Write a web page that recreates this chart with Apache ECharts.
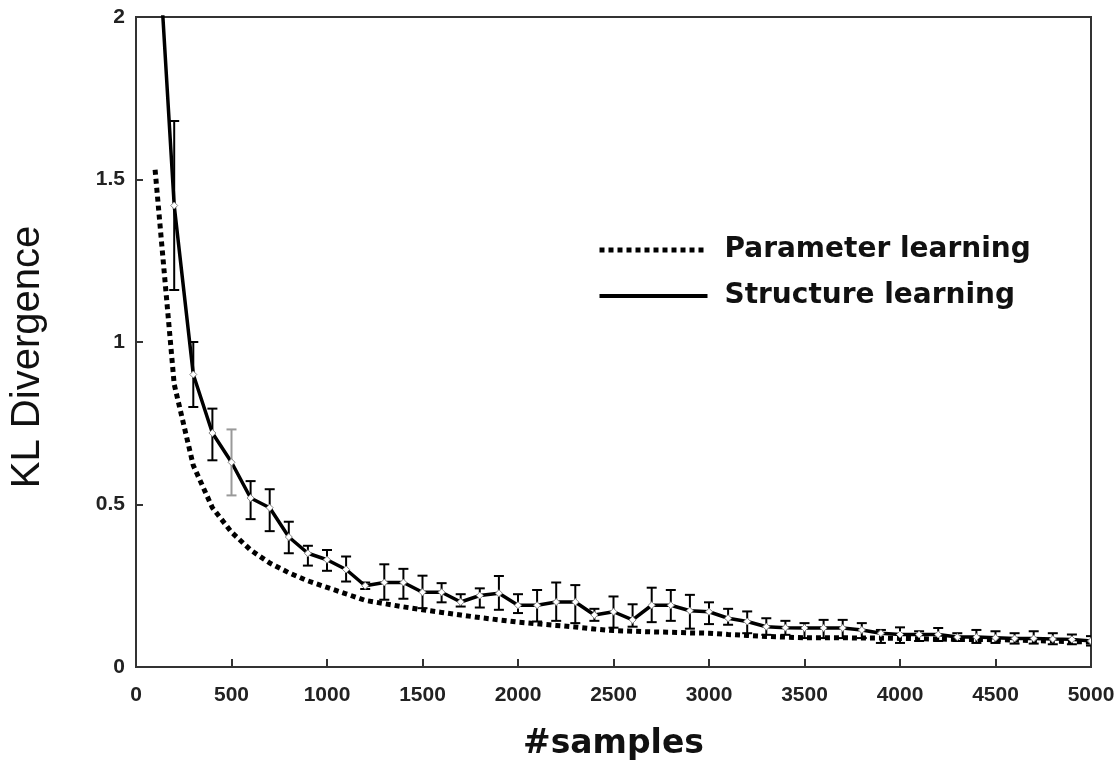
<!DOCTYPE html>
<html>
<head>
<meta charset="utf-8">
<script src="https://cdn.jsdelivr.net/npm/echarts@6/dist/echarts.min.js"></script>
<style>html,body{margin:0;padding:0;background:#fff;}#c{width:1119px;height:766px;}</style>
</head>
<body>
<div id="c"></div>
<script>
// ---- data ----
var samples = [100,200,300,400,500,600,700,800,900,1000,1100,1200,1300,1400,1500,1600,1700,1800,1900,2000,
  2100,2200,2300,2400,2500,2600,2700,2800,2900,3000,3100,3200,3300,3400,3500,3600,3700,3800,3900,4000,
  4100,4200,4300,4400,4500,4600,4700,4800,4900,5000];
var paramLearning = [1.53,0.87,0.62,0.49,0.415,0.36,0.32,0.29,0.265,0.245,0.225,0.205,0.195,0.185,0.176,0.168,0.16,0.152,0.145,0.138,
  0.133,0.128,0.123,0.117,0.112,0.11,0.108,0.107,0.105,0.104,0.1,0.097,0.094,0.092,0.09,0.09,0.09,0.089,0.089,0.088,
  0.087,0.086,0.085,0.085,0.084,0.083,0.081,0.08,0.078,0.077];
var structLearning = [2.40,1.42,0.90,0.72,0.63,0.52,0.49,0.40,0.35,0.33,0.30,0.25,0.26,0.26,0.23,0.23,0.20,0.22,0.227,0.19,
  0.19,0.20,0.20,0.16,0.17,0.145,0.19,0.19,0.173,0.17,0.15,0.14,0.124,0.121,0.12,0.12,0.12,0.114,0.104,0.10,
  0.10,0.10,0.092,0.092,0.09,0.088,0.088,0.086,0.085,0.08];
var structLow = [null,1.16,0.80,0.636,0.528,0.455,0.418,0.35,0.312,0.296,0.263,0.24,0.207,0.21,0.181,0.199,0.186,0.183,0.176,0.166,
  0.14,0.142,0.135,0.142,0.121,0.124,0.138,0.142,0.118,0.132,0.13,0.104,0.099,0.099,0.089,0.089,0.089,0.089,0.074,0.074,
  0.08,0.08,0.08,0.074,0.074,0.072,0.072,0.07,0.07,0.066];
var structHigh = [null,1.68,1.00,0.795,0.731,0.572,0.547,0.447,0.373,0.36,0.34,0.26,0.316,0.302,0.281,0.258,0.224,0.242,0.28,0.224,
  0.237,0.26,0.252,0.179,0.217,0.193,0.244,0.237,0.222,0.199,0.179,0.171,0.15,0.142,0.135,0.145,0.145,0.135,0.114,0.122,
  0.11,0.12,0.104,0.114,0.11,0.104,0.11,0.104,0.1,0.095];
var xTicks = ['0','500','1000','1500','2000','2500','3000','3500','4000','4500','5000'];
var yTicks = ['0','0.5','1','1.5','2'];
var seriesNames = ['Parameter learning','Structure learning'];
var xTitle = '#samples';
var yTitle = 'KL Divergence';

// ---- build ----
var paramData = samples.map(function(s,i){return [s, paramLearning[i]];});
var structData = samples.map(function(s,i){return [s, structLearning[i]];});
var errData = [];
samples.forEach(function(s,i){ if (structLow[i] != null) errData.push([s, structLow[i], structHigh[i], structLearning[i]]); });

var chart = echarts.init(document.getElementById('c'), null, {renderer:'canvas'});
var labelFont = {fontFamily:'Liberation Sans, Arial, sans-serif', fontWeight:'bold', fontSize:21, color:'#222'};

chart.setOption({
  animation: false,
  backgroundColor: '#fff',
  grid: {left:135, right:28, top:17, bottom:97, show:true, borderColor:'#333', borderWidth:2, backgroundColor:'transparent'},
  legend: {
    orient:'vertical', left:597, top:235, padding:0, itemWidth:108, itemHeight:14, itemGap:16,
    itemStyle:{opacity:0},
    textStyle:{fontFamily:'DejaVu Sans', fontWeight:'bold', fontSize:28, color:'#111', lineHeight:30, padding:[0,0,0,12]},
    data: [
      {name:seriesNames[0], lineStyle:{width:5, type:[5,4], color:'#000', cap:'butt'}},
      {name:seriesNames[1], lineStyle:{width:4, type:'solid', color:'#000'}}
    ]
  },
  xAxis: {
    type:'value', min:0, max:5000, interval:500,
    name: xTitle, nameLocation:'middle', nameGap:61,
    nameTextStyle:{fontFamily:'DejaVu Sans', fontWeight:'bold', fontSize:33, color:'#111'},
    axisLine:{show:true, lineStyle:{color:'#333', width:2}},
    axisTick:{show:true, inside:true, length:8, lineStyle:{color:'#333', width:2}},
    axisLabel:Object.assign({margin:18, formatter:function(v){ return xTicks[Math.round(v/500)]; }}, labelFont),
    splitLine:{show:false}
  },
  yAxis: {
    type:'value', min:0, max:2, interval:0.5,
    name: yTitle, nameLocation:'middle', nameGap:88, nameRotate:90,
    nameTextStyle:{fontFamily:'Liberation Sans, Arial, sans-serif', fontSize:40, color:'#111', padding:[0,30,0,0]},
    axisLine:{show:true, lineStyle:{color:'#333', width:2}},
    axisTick:{show:true, inside:true, length:7, lineStyle:{color:'#333', width:2}},
    axisLabel:Object.assign({margin:11, formatter:function(v){ return yTicks[Math.round(v/0.5)]; }}, labelFont),
    splitLine:{show:false}
  },
  series: [
    {
      name: seriesNames[0], type:'line', data: paramData, symbol:'none', clip:true,
      lineStyle:{color:'#000', width:5, type:[5,4], cap:'butt'},
      itemStyle:{color:'#000'}, z:2
    },
    {
      name: seriesNames[1], type:'line', data: structData, symbol:'none', clip:true,
      lineStyle:{color:'#000', width:3.5, type:'solid'},
      itemStyle:{color:'#000'}, z:3
    },
    {
      name:'err', type:'custom', data: errData, clip:true, z:4,
      renderItem: function(params, api){
        var x = api.value(0);
        var lo = api.coord([x, api.value(1)]);
        var hi = api.coord([x, api.value(2)]);
        var m = api.coord([x, api.value(3)]);
        var col = (x === 500) ? '#999' : '#000';
        var hw = 5, d = 3.5;
        return {type:'group', children:[
          {type:'line', shape:{x1:lo[0], y1:lo[1], x2:hi[0], y2:hi[1]}, style:{stroke:col, lineWidth:2}},
          {type:'line', shape:{x1:hi[0]-hw, y1:hi[1], x2:hi[0]+hw, y2:hi[1]}, style:{stroke:col, lineWidth:2}},
          {type:'line', shape:{x1:lo[0]-hw, y1:lo[1], x2:lo[0]+hw, y2:lo[1]}, style:{stroke:col, lineWidth:2}},
          {type:'polygon', shape:{points:[[m[0],m[1]-d],[m[0]+d,m[1]],[m[0],m[1]+d],[m[0]-d,m[1]]]}, style:{stroke:'#888', fill:'#fff', lineWidth:1}}
        ]};
      }
    }
  ]
});
</script>
</body>
</html>
